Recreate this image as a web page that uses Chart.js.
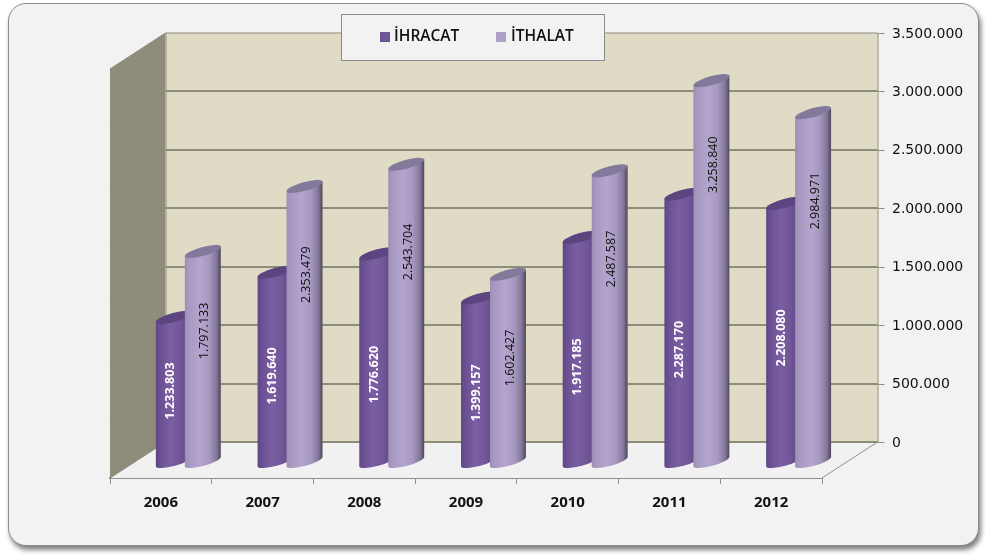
<!DOCTYPE html>
<html lang="tr">
<head>
<meta charset="utf-8">
<title>İhracat ve İthalat</title>
<script src="https://cdn.jsdelivr.net/npm/chart.js@4/dist/chart.umd.min.js"></script>
<style>
  html, body { margin: 0; padding: 0; background: #fff; }
  #wrap { position: relative; width: 986px; height: 559px; overflow: hidden; }
  #card {
    position: absolute; left: 8px; top: 3px; width: 969px; height: 541px;
    background: #f2f2f3; border: 1px solid #8a8a8a; border-radius: 18px;
    box-shadow: 2px 4px 5px rgba(0, 0, 0, 0.5);
  }
  canvas { position: absolute; left: 0; top: 0; }
</style>
</head>
<body>
<div id="wrap">
  <div id="card"></div>
  <canvas id="chart" width="986" height="559"></canvas>
</div>
<script>
const years = ['2006', '2007', '2008', '2009', '2010', '2011', '2012'];
const ihracat = [1233803, 1619640, 1776620, 1399157, 1917185, 2287170, 2208080];
const ithalat = [1797133, 2353479, 2543704, 1602427, 2487587, 3258840, 2984971];
const yTicks = [0, 500000, 1000000, 1500000, 2000000, 2500000, 3000000, 3500000];

// height on the bar where each rotated value label sits
const ihracatLabelAt = [603000, 732000, 744000, 586000, 809000, 958000, 1057000];
const ithalatLabelAt = [1117000, 1598000, 1793000, 886000, 1733000, 2540000, 2229000];

// 3D box: how far the back wall is pushed from the front edge
const depthX = 55.5;
const depthY = 36;
const tilt = Math.atan(5 / 18);
const capRadius = 4.5;

const gridColor = '#8e8c7a';

function dotted(v) {
  return String(v).replace(/\B(?=(\d{3})+(?!\d))/g, '.');
}

function barGradient(ctx, left, right, stops) {
  const g = ctx.createLinearGradient(left, 0, right, 0);
  stops.forEach(s => g.addColorStop(s[0], s[1]));
  return g;
}

const shades = [
  {
    body: [[0, '#5f4786'], [0.12, '#6a5092'], [0.4, '#7a5ea3'], [0.7, '#6f5596'], [1, '#553f78']],
    cap: '#5b4480',
    text: '#ffffff',
    font: 'bold 12.5px "Open Sans"',
    shift: -3,
    labelAt: ihracatLabelAt
  },
  {
    body: [[0, '#9d8fb6'], [0.12, '#a899c2'], [0.42, '#b4a5cf'], [0.68, '#a698bf'], [0.88, '#83779a'], [1, '#4f4759']],
    cap: '#837a9b',
    text: '#111111',
    font: '12.5px "Open Sans"',
    shift: 2,
    labelAt: ithalatLabelAt
  }
];

function drawCylinders(chart, index) {
  const { ctx } = chart;
  const shade = shades[index];
  ctx.save();
  chart.getDatasetMeta(index).data.forEach(bar => {
    const hw = bar.width / 2;
    const dy = hw * Math.tan(tilt);
    const rx = hw / Math.cos(tilt);

    ctx.fillStyle = barGradient(ctx, bar.x - hw, bar.x + hw, shade.body);
    ctx.beginPath();
    ctx.moveTo(bar.x - hw, bar.y + dy);
    ctx.lineTo(bar.x + hw, bar.y - dy);
    ctx.lineTo(bar.x + hw, bar.base - dy);
    ctx.ellipse(bar.x, bar.base, rx, capRadius, -tilt, 0, Math.PI);
    ctx.closePath();
    ctx.fill();

    ctx.fillStyle = shade.cap;
    ctx.beginPath();
    ctx.ellipse(bar.x, bar.y, rx, capRadius, -tilt, 0, Math.PI * 2);
    ctx.fill();
  });
  ctx.restore();
}

const boxPlugin = {
  id: 'box3d',
  beforeDatasetsDraw(chart) {
    const { ctx, chartArea: a } = chart;
    const y = chart.scales.y;
    const backL = a.left + depthX;
    const backR = a.right + depthX;
    const zero = y.getPixelForValue(0);
    const top = y.getPixelForValue(3500000);

    ctx.save();
    // floor
    ctx.fillStyle = '#f1f1f1';
    ctx.beginPath();
    ctx.moveTo(a.left, a.bottom);
    ctx.lineTo(backL, zero);
    ctx.lineTo(backR, zero);
    ctx.lineTo(a.right, a.bottom);
    ctx.closePath();
    ctx.fill();
    ctx.strokeStyle = '#8f8f8f';
    ctx.lineWidth = 1;
    ctx.beginPath();
    ctx.moveTo(a.right, a.bottom);
    ctx.lineTo(backR, zero);
    ctx.stroke();

    // left wall
    ctx.fillStyle = '#8f8c7c';
    ctx.beginPath();
    ctx.moveTo(a.left, a.bottom);
    ctx.lineTo(a.left, top + depthY);
    ctx.lineTo(backL, top);
    ctx.lineTo(backL, zero);
    ctx.closePath();
    ctx.fill();

    // back wall
    ctx.fillStyle = '#dfdbc4';
    ctx.fillRect(backL, top, backR - backL, zero - top);

    y.ticks.forEach(t => {
      const py = Math.round(y.getPixelForValue(t.value));
      ctx.strokeStyle = '#8b8876';
      ctx.lineWidth = 1;
      ctx.beginPath();
      ctx.moveTo(a.left, py + depthY);
      ctx.lineTo(backL, py);
      ctx.stroke();
      ctx.strokeStyle = gridColor;
      ctx.lineWidth = t.value === 3500000 ? 1 : 2;
      ctx.beginPath();
      ctx.moveTo(backL, py);
      ctx.lineTo(backR, py);
      ctx.stroke();
      ctx.strokeStyle = '#8f8f8f';
      ctx.lineWidth = 1;
      ctx.beginPath();
      ctx.moveTo(backR, py + 0.5);
      ctx.lineTo(backR + 7, py + 0.5);
      ctx.stroke();
    });

    ctx.strokeStyle = gridColor;
    ctx.lineWidth = 1;
    ctx.beginPath();
    ctx.moveTo(backL + 0.5, top);
    ctx.lineTo(backL + 0.5, zero);
    ctx.moveTo(backR + 0.5, top);
    ctx.lineTo(backR + 0.5, zero);
    ctx.stroke();
    ctx.restore();

    // cylinders replace the flat rectangles, İHRACAT first so İTHALAT overlaps it
    drawCylinders(chart, 0);
    drawCylinders(chart, 1);
  },
  beforeDatasetDraw() {
    return false;
  },
  afterDatasetsDraw(chart) {
    const { ctx } = chart;
    const yBar = chart.scales.yBar;
    shades.forEach((shade, d) => {
      chart.getDatasetMeta(d).data.forEach((bar, i) => {
        ctx.save();
        ctx.translate(bar.x + shade.shift, yBar.getPixelForValue(shade.labelAt[i]));
        ctx.rotate(-Math.PI / 2);
        ctx.font = shade.font;
        ctx.fillStyle = shade.text;
        ctx.textAlign = 'center';
        ctx.textBaseline = 'middle';
        ctx.fillText(dotted(chart.data.datasets[d].data[i]), 0, 0);
        ctx.restore();
      });
    });
  },
  afterDraw(chart) {
    const { ctx } = chart;
    const sets = chart.data.datasets;
    ctx.save();
    ctx.fillStyle = '#f2f2f3';
    ctx.strokeStyle = '#8a8a8a';
    ctx.lineWidth = 1;
    ctx.fillRect(341.5, 14.5, 263, 46);
    ctx.strokeRect(341.5, 14.5, 263, 46);

    ctx.font = '600 15.5px "Open Sans"';
    ctx.textBaseline = 'middle';
    ctx.textAlign = 'left';
    [[380, 394], [496, 511]].forEach((pos, i) => {
      ctx.fillStyle = sets[i].backgroundColor;
      ctx.fillRect(pos[0], 32, 10, 10);
      ctx.fillStyle = '#111111';
      ctx.fillText(sets[i].label, pos[1], 37);
    });
    ctx.restore();
  }
};

new Chart(document.getElementById('chart'), {
  type: 'bar',
  data: {
    labels: years,
    datasets: [
      {
        label: 'İHRACAT',
        data: ihracat,
        backgroundColor: '#6f5596',
        xAxisID: 'xBar',
        yAxisID: 'yBar',
        categoryPercentage: 0.57,
        barPercentage: 1.24
      },
      {
        label: 'İTHALAT',
        data: ithalat,
        backgroundColor: '#afa0c8',
        xAxisID: 'xBar',
        yAxisID: 'yBar',
        categoryPercentage: 0.57,
        barPercentage: 1.24
      }
    ]
  },
  plugins: [boxPlugin],
  options: {
    responsive: false,
    animation: false,
    layout: { autoPadding: false, padding: { left: 110, top: 33, right: 0, bottom: 0 } },
    plugins: { legend: { display: false }, tooltip: { enabled: false } },
    scales: {
      x: {
        type: 'category',
        position: 'bottom',
        offset: true,
        afterFit(s) { s.height = 81; },
        grid: { display: true, drawOnChartArea: false, offset: true, tickLength: 6, color: '#8f8f8f' },
        border: { display: true, color: '#8f8f8f', width: 2 },
        ticks: { color: '#111111', padding: 10, font: { family: 'Open Sans', size: 15, weight: 'bold' }, maxRotation: 0 }
      },
      // the cylinders stand forward of the back wall, so they get their own shifted scales
      xBar: {
        type: 'linear',
        display: false,
        offset: false,
        min: 2005.5 - 0.27,
        max: 2012.5 - 0.27,
        ticks: { stepSize: 1, includeBounds: false }
      },
      y: {
        position: 'right',
        min: -308000,
        max: 3500000,
        afterFit(s) {
          s.width = 164;
          // the wide tick padding would otherwise push the chart area down
          s.paddingTop = 0;
          s.paddingBottom = 0;
        },
        afterBuildTicks(s) { s.ticks = yTicks.map(value => ({ value })); },
        grid: { display: false, drawTicks: false },
        border: { display: false },
        ticks: {
          autoSkip: false,
          padding: 70,
          labelOffset: 1,
          color: '#111111',
          font: { family: 'DejaVu Sans', size: 14 },
          callback: v => dotted(v)
        }
      },
      yBar: {
        position: 'right',
        display: false,
        min: -141200,
        max: 3666800
      }
    }
  }
});
</script>
</body>
</html>
